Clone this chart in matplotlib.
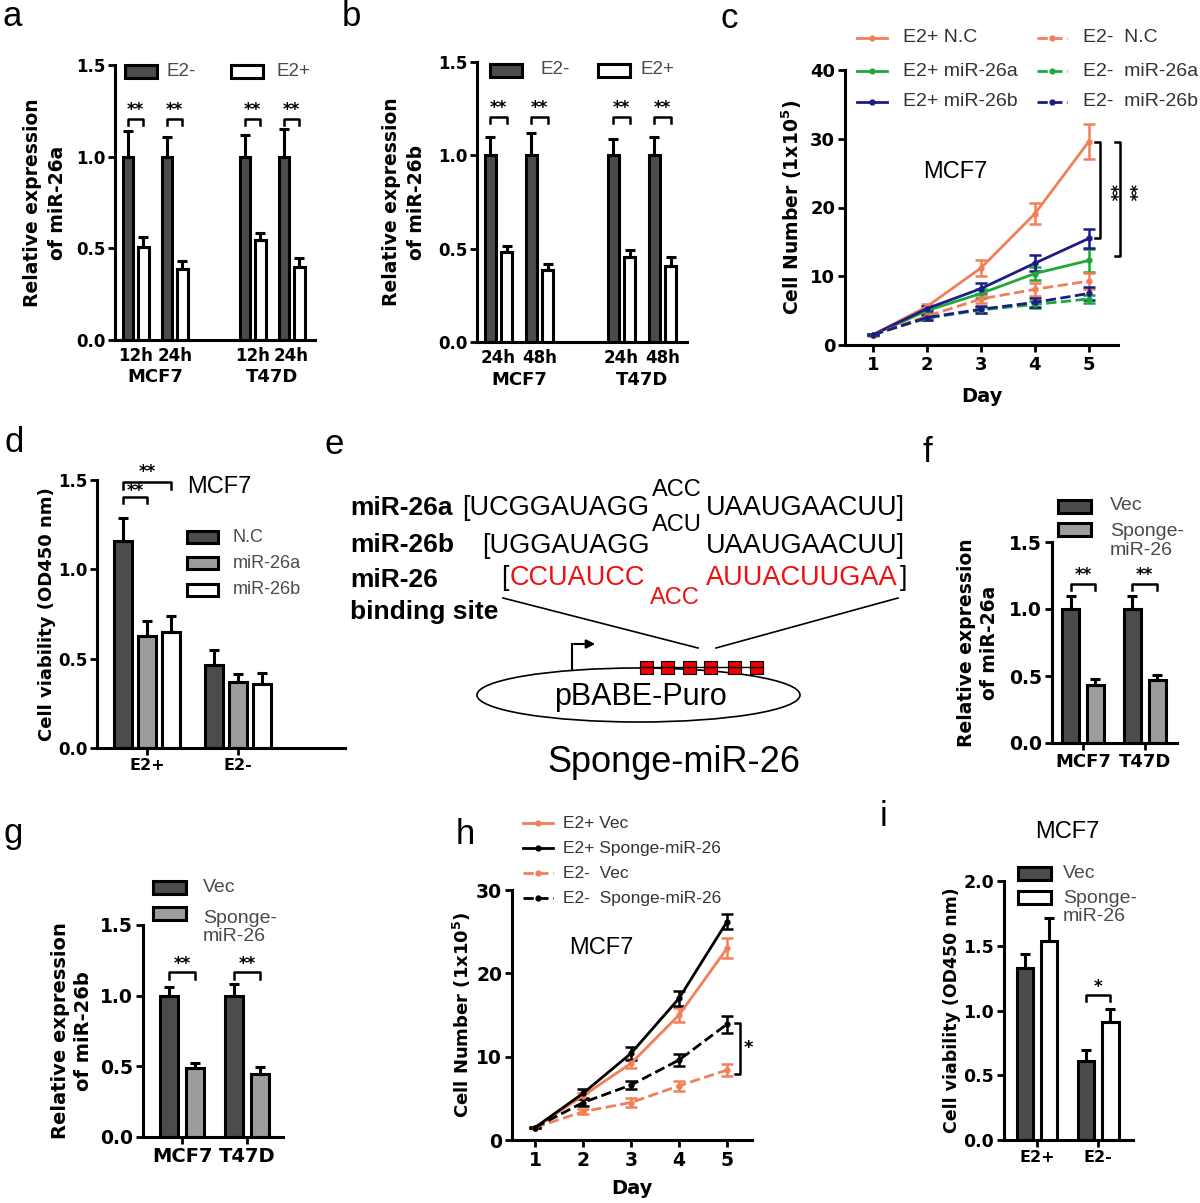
import numpy as np
import matplotlib
matplotlib.use("Agg")
import matplotlib.pyplot as plt
from matplotlib.patches import Rectangle, Ellipse
from matplotlib.transforms import blended_transform_factory

plt.rcParams['font.family'] = ['DejaVu Sans']
plt.rcParams['mathtext.fontset'] = 'dejavusans'

# ---------------- data ----------------
# panel a : relative expression of miR-26a
a_time = ['12h', '24h', '12h', '24h']
a_cell = ['MCF7', 'T47D']
a_e2m = [1.00, 1.00, 1.00, 1.00]
a_e2m_err = [0.14, 0.11, 0.12, 0.15]
a_e2p = [0.51, 0.385, 0.545, 0.40]
a_e2p_err = [0.05, 0.045, 0.04, 0.05]
# panel b : relative expression of miR-26b
b_time = ['24h', '48h', '24h', '48h']
b_cell = ['MCF7', 'T47D']
b_e2m = [1.00, 1.00, 1.00, 1.00]
b_e2m_err = [0.10, 0.12, 0.085, 0.10]
b_e2p = [0.48, 0.387, 0.458, 0.408]
b_e2p_err = [0.032, 0.032, 0.037, 0.047]
# panel c : cell number
days = [1, 2, 3, 4, 5]
c_e2p_nc = [1.5, 5.6, 11.2, 19.1, 29.6]
c_e2p_nc_err = [0.15, 0.4, 1.1, 1.5, 2.5]
c_e2p_26a = [1.5, 5.0, 7.5, 10.4, 12.3]
c_e2p_26a_err = [0.1, 0.3, 0.6, 1.0, 1.7]
c_e2p_26b = [1.5, 5.3, 8.2, 11.9, 15.5]
c_e2p_26b_err = [0.1, 0.4, 0.8, 1.2, 1.4]
c_e2m_nc = [1.5, 4.2, 6.7, 8.1, 9.3]
c_e2m_nc_err = [0.1, 0.3, 0.6, 0.9, 1.2]
c_e2m_26a = [1.5, 3.9, 5.1, 5.9, 6.7]
c_e2m_26a_err = [0.1, 0.3, 0.4, 0.5, 0.6]
c_e2m_26b = [1.5, 4.0, 5.2, 6.2, 7.5]
c_e2m_26b_err = [0.1, 0.3, 0.5, 0.6, 1.0]
c_labels = ['E2+ N.C', 'E2+ miR-26a', 'E2+ miR-26b', 'E2-  N.C', 'E2-  miR-26a', 'E2-  miR-26b']
# panel d : cell viability
d_groups = ['E2+', 'E2-']
d_nc = [1.16, 0.462]
d_nc_err = [0.13, 0.084]
d_26a = [0.628, 0.369]
d_26a_err = [0.085, 0.047]
d_26b = [0.652, 0.36]
d_26b_err = [0.088, 0.06]
d_labels = ['N.C', 'miR-26a', 'miR-26b']
# panel f
fg_cells = ['MCF7', 'T47D']
f_vec = [1.0, 1.0]
f_vec_err = [0.095, 0.095]
f_sponge = [0.43, 0.47]
f_sponge_err = [0.05, 0.04]
# panel g
g_vec = [1.0, 1.0]
g_vec_err = [0.06, 0.083]
g_sponge = [0.489, 0.449]
g_sponge_err = [0.036, 0.047]
# panel h
h_e2p_vec = [1.5, 5.3, 9.2, 15.0, 23.0]
h_e2p_vec_err = [0.1, 0.4, 0.5, 0.8, 1.2]
h_e2p_sp = [1.5, 5.6, 10.4, 17.0, 26.2]
h_e2p_sp_err = [0.1, 0.5, 0.8, 0.9, 0.9]
h_e2m_vec = [1.5, 3.4, 4.5, 6.5, 8.4]
h_e2m_vec_err = [0.1, 0.3, 0.5, 0.6, 0.7]
h_e2m_sp = [1.5, 4.5, 6.6, 9.6, 13.9]
h_e2m_sp_err = [0.1, 0.4, 0.5, 0.7, 1.0]
h_labels = ['E2+ Vec', 'E2+ Sponge-miR-26', 'E2-  Vec', 'E2-  Sponge-miR-26']
# panel i
i_groups = ['E2+', 'E2-']
i_vec = [1.33, 0.612]
i_vec_err = [0.11, 0.082]
i_sponge = [1.535, 0.913]
i_sponge_err = [0.18, 0.10]
vec_labels = ['Vec', 'Sponge-\nmiR-26']

# ---------------- style ----------------
DARK = '#4c4c4c'
LIGHT = '#9c9c9c'
ORANGE = '#f0805a'
GREEN = '#1fa83a'
NAVY = '#1c1c86'
RED = '#ee1111'
LEGC = '#4a4a4a'
ARIAL = 'Liberation Sans'

W, H = 1200, 1203
fig = plt.figure(figsize=(W / 100, H / 100), dpi=100, facecolor='white')

ov = fig.add_axes([0, 0, 1, 1], zorder=5)
ov.set_xlim(0, W)
ov.set_ylim(H, 0)
ov.axis('off')
ov.patch.set_alpha(0)


def px_axes(x0, y0, x1, y1):
    ax = fig.add_axes([x0 / W, 1 - y1 / H, (x1 - x0) / W, (y1 - y0) / H])
    ax._pxbox = (x0, y0, x1, y1)
    ax.patch.set_alpha(0)
    for s in ('top', 'right'):
        ax.spines[s].set_visible(False)
    for s in ('left', 'bottom'):
        ax.spines[s].set_linewidth(2.2)
    ax.tick_params(axis='both', direction='out', width=2, length=5, pad=2)
    return ax


def set_y(ax, ylim, ticks, fmt, fs):
    ax.set_ylim(*ylim)
    ax.set_yticks(ticks)
    ax.set_yticklabels([fmt.format(v) for v in ticks], fontweight='bold', fontsize=fs)


def set_x(ax, xlim, ticks, labels, fs, length=5, pad=2):
    ax.set_xlim(*xlim)
    ax.set_xticks(ticks)
    ax.set_xticklabels(labels, fontweight='bold', fontsize=fs)
    ax.tick_params(axis='x', length=length, pad=pad)


def ylab(ax, text, cx, fs=13.5, ls=1.3):
    x0, y0, x1, y1 = ax._pxbox
    ax.set_ylabel(text, fontsize=fs, fontweight='bold', linespacing=ls)
    ax.yaxis.set_label_coords((cx - x0) / (x1 - x0), 0.5)
    ax.yaxis.label.set_va('center')


def xlab(ax, text, cy, fs=14):
    x0, y0, x1, y1 = ax._pxbox
    ax.set_xlabel(text, fontsize=fs, fontweight='bold')
    ax.xaxis.set_label_coords(0.5, (y1 - cy) / (y1 - y0))
    ax.xaxis.label.set_va('center')


def bars(ax, x, vals, errs, fc, width):
    ax.bar(x, vals, width=width, color=fc, edgecolor='k', linewidth=2.2, zorder=2)
    ax.errorbar(x, vals, yerr=[np.zeros(len(vals)), errs], fmt='none', ecolor='k',
                elinewidth=2.2, capsize=3.5, capthick=2.2, zorder=3)


def bracket(ax, x1, x2, y, drop, label, ty, fs=12):
    ax.plot([x1, x1, x2, x2], [y - drop, y, y, y - drop], color='k', lw=1.8,
            clip_on=False, zorder=4)
    ax.text((x1 + x2) / 2, ty, label, ha='center', va='center', fontsize=fs,
            fontweight='bold', clip_on=False)


def leg_box(x0, yc, w, h, fc):
    ov.add_patch(Rectangle((x0, yc - h / 2), w, h, facecolor=fc, edgecolor='k', lw=2.2))


def leg_text(x, y, s, fs=13.5, color=LEGC, ls=1.2):
    ov.text(x, y, s, ha='left', va='center', fontsize=fs, color=color, family=ARIAL,
            linespacing=ls)


def leg_line(x0, x1, y, color, ls):
    ov.plot([x0, x1], [y, y], color=color, ls=ls, lw=2)
    ov.plot([(x0 + x1) / 2], [y], 'o', color=color, ms=3.5)


def panel_letter(x, y, s):
    ov.text(x, y, s, ha='center', va='center', fontsize=25, family=ARIAL)


# ---------------- panels a & b ----------------
def time_panel(box, times, cells, e2m, e2m_err, e2p, e2p_err, xlim, ylabel, ycx, legpos):
    ax = px_axes(*box)
    pos = np.array([0.0, 1.0, 3.0, 4.0])
    off, wid = 0.2, 0.27
    bars(ax, pos - off, e2m, e2m_err, DARK, wid)
    bars(ax, pos + off, e2p, e2p_err, 'white', wid)
    set_y(ax, (0, 1.5), [0, 0.5, 1.0, 1.5], '{:.1f}', 12)
    set_x(ax, xlim, pos, times, 12, length=0, pad=5)
    tr = blended_transform_factory(ax.transData, ax.transAxes)
    for gx, name in zip([0.5, 3.5], cells):
        ax.text(gx, -0.135, name, transform=tr, ha='center', va='center',
                fontsize=13, fontweight='bold')
    for p in pos:
        bracket(ax, p - off, p + off, 1.205, 0.03, '**', 1.255)
    ylab(ax, ylabel, ycx, ls=1.45)
    (bx1, tx1, bx2, tx2, yc) = legpos
    leg_box(bx1, yc, 32, 13, DARK)
    leg_text(tx1, yc, 'E2-')
    leg_box(bx2, yc, 32, 13, 'white')
    leg_text(tx2, yc, 'E2+')
    return ax


time_panel((115, 65, 315, 340), a_time, a_cell, a_e2m, a_e2m_err, a_e2p, a_e2p_err,
           (-0.53, 4.6), 'Relative expression\nof miR-26a', 45, (125, 167, 231, 277, 71))
time_panel((477, 62, 687, 342), b_time, b_cell, b_e2m, b_e2m_err, b_e2p, b_e2p_err,
           (-0.52, 4.6), 'Relative expression\nof miR-26b', 404, (490, 540, 598, 640, 70))

# ---------------- panel c ----------------
ax_c = px_axes(845, 70, 1118, 345)
set_y(ax_c, (0, 40), [0, 10, 20, 30, 40], '{:.0f}', 13)
set_x(ax_c, (0.48, 5.54), days, [str(d) for d in days], 13, length=5, pad=3)
c_series = [
    (c_e2p_nc, c_e2p_nc_err, ORANGE, '-'),
    (c_e2p_26a, c_e2p_26a_err, GREEN, '-'),
    (c_e2p_26b, c_e2p_26b_err, NAVY, '-'),
    (c_e2m_nc, c_e2m_nc_err, ORANGE, '--'),
    (c_e2m_26a, c_e2m_26a_err, GREEN, '--'),
    (c_e2m_26b, c_e2m_26b_err, NAVY, '--'),
]
for vals, errs, col, ls in c_series:
    ax_c.errorbar(days, vals, yerr=errs, color=col, ls=ls, lw=2, marker='o', ms=3.5,
                  capsize=4, elinewidth=1.8, capthick=1.8, clip_on=False)
ax_c.plot([5.11, 5.2, 5.2, 5.11], [29.5, 29.5, 15.6, 15.6], color='k', lw=1.8, clip_on=False)
ax_c.plot([5.48, 5.57, 5.57, 5.48], [29.5, 29.5, 12.9, 12.9], color='k', lw=1.8, clip_on=False)
ax_c.text(5.39, 22.1, '**', rotation=-90, ha='center', va='center', fontsize=12,
          fontweight='bold', clip_on=False)
ax_c.text(5.74, 22.1, '**', rotation=-90, ha='center', va='center', fontsize=12,
          fontweight='bold', clip_on=False)
ax_c.text(0.403, 0.629, 'MCF7', transform=ax_c.transAxes, ha='center', va='center',
          fontsize=17, family=ARIAL)
ylab(ax_c, r'Cell Number (1x10$^{\mathbf{5}}$)', 792)
xlab(ax_c, 'Day', 396)
c_leg_pos = [(857, 903, 38), (857, 903, 71), (857, 903, 102),
             (1037, 1083, 38), (1037, 1083, 71), (1037, 1083, 102)]
for (lx, tx, ly), lab, (_, _, col, ls) in zip(c_leg_pos, c_labels, c_series):
    leg_line(lx, lx + 30, ly, col, ls)
    leg_text(tx, ly, lab, fs=14, color='#333333')

# ---------------- panel d ----------------
ax_d = px_axes(97, 480, 345, 748)
gpos = np.array([0.0, 1.0])
doff, dw = 0.264, 0.2
bars(ax_d, gpos - doff, d_nc, d_nc_err, DARK, dw)
bars(ax_d, gpos, d_26a, d_26a_err, LIGHT, dw)
bars(ax_d, gpos + doff, d_26b, d_26b_err, 'white', dw)
set_y(ax_d, (0, 1.5), [0, 0.5, 1.0, 1.5], '{:.1f}', 12)
set_x(ax_d, (-0.55, 2.18), gpos, d_groups, 11.5, length=5, pad=2)
bracket(ax_d, -doff, 0, 1.405, 0.035, '**', 1.44)
bracket(ax_d, -doff, doff, 1.49, 0.04, '**', 1.545)
ov.text(187, 487, 'MCF7', ha='left', va='center', fontsize=17, family=ARIAL)
ylab(ax_d, 'Cell viability (OD450 nm)', 47, fs=13)
for yc, fc, lab in zip([537, 563, 590], [DARK, LIGHT, 'white'], d_labels):
    leg_box(187, yc, 31, 12, fc)
    leg_text(233, yc, lab, fs=13)

# ---------------- panel e (schematic) ----------------
BOLD19 = dict(fontsize=19, fontweight='bold', family=ARIAL, va='center', ha='left')
SEQ = dict(fontsize=19.5, family=ARIAL, va='center', ha='left')
SUP = dict(fontsize=17, family=ARIAL, va='center', ha='left')
ov.text(350, 508, 'miR-26a', **BOLD19)
ov.text(350, 545, 'miR-26b', **BOLD19)
ov.text(350, 580, 'miR-26', **BOLD19)
ov.text(350, 612, 'binding site', **BOLD19)
ov.text(462, 508, '[UCGGAUAGG', **SEQ)
ov.text(652, 490, 'ACC', **SUP)
ov.text(706, 508, 'UAAUGAACUU]', **SEQ)
ov.text(482, 546, '[UGGAUAGG', **SEQ)
ov.text(652, 525, 'ACU', **SUP)
ov.text(706, 546, 'UAAUGAACUU]', **SEQ)
ov.text(501, 578, '[', **SEQ)
ov.text(510, 578, 'CCUAUCC', color=RED, **SEQ)
ov.text(650, 598, 'ACC', color=RED, **SUP)
ov.text(706, 578, 'AUUACUUGAA', color=RED, **SEQ)
ov.text(900, 578, ']', **SEQ)
ov.plot([503, 698], [598, 648], color='k', lw=1.2)
ov.plot([716, 898], [648, 598], color='k', lw=1.2)
ov.add_patch(Ellipse((638.5, 695), 323, 54, fill=False, ec='k', lw=1.2))
ov.plot([640, 763], [667, 667], color='k', lw=1)
for cx in [646.5, 667, 689, 710, 734, 756]:
    ov.add_patch(Rectangle((cx - 6.5, 661), 13, 13, facecolor='#ee0000', edgecolor='k', lw=0.8))
ov.plot([572, 572], [670, 644], color='k', lw=1.5)
ov.annotate('', xy=(598, 644), xytext=(571.3, 644),
            arrowprops=dict(arrowstyle='-|>', color='k', lw=1.5, mutation_scale=13))
ov.text(640, 697, 'pBABE-Puro', ha='center', va='center', fontsize=22, family=ARIAL)
ov.text(674, 763, 'Sponge-miR-26', ha='center', va='center', fontsize=26, family=ARIAL)


# ---------------- panels f, g, i ----------------
def vec_panel(box, groups, vec, vec_err, sp, sp_err, sp_color, ylim, yticks, xlim,
              tfs, xfs, ylabel, ycx, ylfs, legx, legy, brackets):
    ax = px_axes(*box)
    off, wid = 0.2, 0.27
    bars(ax, gpos - off, vec, vec_err, DARK, wid)
    bars(ax, gpos + off, sp, sp_err, sp_color, wid)
    set_y(ax, ylim, yticks, '{:.1f}', tfs)
    set_x(ax, xlim, gpos, groups, xfs, length=5, pad=2)
    for gi, y, drop, lab, ty in brackets:
        bracket(ax, gi - off, gi + off, y, drop, lab, ty)
    ylab(ax, ylabel, ycx, fs=ylfs)
    bx, tx = legx
    y1, y2, y3 = legy
    leg_box(bx, y1, 33, 13, DARK)
    leg_box(bx, y2, 33, 13, sp_color)
    leg_text(tx, y1, vec_labels[0], fs=14)
    leg_text(tx, (y2 + y3) / 2, vec_labels[1], fs=14, ls=1.15)
    return ax


vec_panel((1052, 542, 1177, 743), fg_cells, f_vec, f_vec_err, f_sponge, f_sponge_err, LIGHT,
          (0, 1.5), [0, 0.5, 1.0, 1.5], (-0.5, 1.52), 13.5, 13,
          'Relative expression\nof miR-26a', 978, 13.5, (1058, 1110), (506, 529, 553),
          [(0, 1.19, 0.05, '**', 1.255), (1, 1.19, 0.05, '**', 1.255)])
vec_panel((143, 925, 283, 1137), fg_cells, g_vec, g_vec_err, g_sponge, g_sponge_err, LIGHT,
          (0, 1.5), [0, 0.5, 1.0, 1.5], (-0.6, 1.55), 13.5, 14,
          'Relative expression\nof miR-26b', 72, 14, (153, 203), (887, 913, 942),
          [(0, 1.165, 0.05, '**', 1.225), (1, 1.165, 0.05, '**', 1.225)])
ax_i = vec_panel((1004, 881, 1133, 1140), i_groups, i_vec, i_vec_err, i_sponge, i_sponge_err,
                 'white', (0, 2.0), [0, 0.5, 1.0, 1.5, 2.0], (-0.54, 1.57), 12.5, 11.5,
                 'Cell viability (OD450 nm)', 952, 12.5, (1018, 1063), (873, 897, 918),
                 [(1, 1.12, 0.05, '*', 1.18)])
ov.text(1067, 832, 'MCF7', ha='center', va='center', fontsize=17, family=ARIAL)

# ---------------- panel h ----------------
ax_h = px_axes(512, 890, 752, 1140)
set_y(ax_h, (0, 30), [0, 10, 20, 30], '{:.0f}', 13.5)
set_x(ax_h, (0.52, 5.52), days, [str(d) for d in days], 13.5, length=5, pad=3)
h_series = [
    (h_e2p_vec, h_e2p_vec_err, ORANGE, '-'),
    (h_e2p_sp, h_e2p_sp_err, 'k', '-'),
    (h_e2m_vec, h_e2m_vec_err, ORANGE, '--'),
    (h_e2m_sp, h_e2m_sp_err, 'k', '--'),
]
for vals, errs, col, ls in h_series:
    ax_h.errorbar(days, vals, yerr=errs, color=col, ls=ls, lw=2, marker='o', ms=3.5,
                  capsize=4, elinewidth=1.8, capthick=1.8, clip_on=False)
ax_h.plot([5.17, 5.27, 5.27, 5.17], [14.1, 14.1, 7.9, 7.9], color='k', lw=1.8, clip_on=False)
ax_h.text(5.45, 11.0, '*', ha='center', va='center', fontsize=13, fontweight='bold',
          clip_on=False)
ax_h.text((601 - 512) / 240, (1140 - 948) / 250, 'MCF7', transform=ax_h.transAxes,
          ha='center', va='center', fontsize=17, family=ARIAL)
ylab(ax_h, r'Cell Number (1x10$^{\mathbf{5}}$)', 462, fs=13)
xlab(ax_h, 'Day', 1188)
for ly, lab, (_, _, col, ls) in zip([823, 848, 873, 898], h_labels, h_series):
    leg_line(523, 553, ly, col, ls)
    leg_text(563, ly, lab, fs=12.5, color='#333333')

# ---------------- panel letters ----------------
for (x, y, s) in [(12, 16, 'a'), (351, 16, 'b'), (729, 18, 'c'), (14, 442, 'd'),
                  (334, 445, 'e'), (927, 452, 'f'), (13, 833, 'g'), (465, 834, 'h'),
                  (883, 816, 'i')]:
    panel_letter(x, y, s)

fig.savefig('out.png', dpi=100, facecolor='white')
